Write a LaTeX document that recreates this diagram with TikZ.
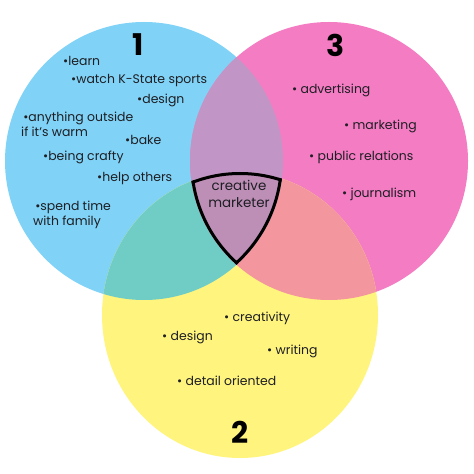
\documentclass[tikz,border=0pt]{standalone}
\usepackage{fontspec}
\setmainfont{Poppins}
\usepackage{tikz}
\usetikzlibrary{positioning}
\definecolor{ink}{HTML}{1E1E24}
\definecolor{bluefill}{HTML}{80D3F6}
\definecolor{pinkfill}{HTML}{F47CC3}
\definecolor{yellowfill}{HTML}{FFF57E}
\definecolor{bpfill}{HTML}{C196C6}
\definecolor{byfill}{HTML}{6FCDC6}
\definecolor{pyfill}{HTML}{F4969D}
\definecolor{allfill}{HTML}{BD8FB6}
\newcommand{\bluecirc}{(144,161) circle [radius=139]}
\newcommand{\pinkcirc}{(329,161) circle [radius=139]}
\newcommand{\yellowcirc}{(240,315) ellipse [x radius=138, y radius=143]}
\tikzset{
  itembox/.style={font=\fontsize{12.5}{15}\selectfont,text=ink,
                  anchor=west,inner sep=0pt,align=left},
  numbox/.style={font=\fontsize{30}{30}\selectfont\bfseries,text=black,inner sep=0pt},
  corebox/.style={font=\fontsize{13.5}{17}\selectfont,text=ink,inner sep=0pt,align=center}
}

\begin{document}
\begin{tikzpicture}[x=1bp,y=-1bp]
  \useasboundingbox (0,0) rectangle (474,474);
  % the three sets
  \fill[bluefill] \bluecirc;
  \fill[pinkfill] \pinkcirc;
  \fill[yellowfill] \yellowcirc;
  % overlaps
  \begin{scope}
    \clip \bluecirc;
    \fill[bpfill] \pinkcirc;
    \fill[byfill] \yellowcirc;
  \end{scope}
  \begin{scope}
    \clip \pinkcirc;
    \fill[pyfill] \yellowcirc;
  \end{scope}
  \begin{scope}
    \clip \bluecirc;
    \clip \pinkcirc;
    \clip \yellowcirc;
    \fill[allfill] \yellowcirc;
    \draw[black,line width=6bp] \bluecirc;
    \draw[black,line width=6bp] \pinkcirc;
    \draw[black,line width=6bp] \yellowcirc;
  \end{scope}
  % set numbers
  \node[numbox] (one) at (138,45) {1};
  \node[numbox] (three) at (336,45) {3};
  \node[numbox] (two) at (240,432) {2};
  % set 1
  \node[itembox] (learn) at (63,61) {•learn};
  \node[itembox] (watch) at (71,81) {•watch K-State sports};
  \node[itembox] (design1) at (137,100) {•design};
  \node[itembox] (outside) at (21,124) {\,•anything outside\\if it’s warm};
  \node[itembox] (bake) at (125,140) {•bake};
  \node[itembox] (crafty) at (43,157) {•being crafty};
  \node[itembox] (help) at (97,179) {•help others};
  \node[itembox] (family) at (33,215) {\,•spend time\\with family};
  % set 3
  \node[itembox] (advert) at (292,90) {• advertising};
  \node[itembox] (market) at (344,126) {• marketing};
  \node[itembox] (public) at (309,157) {• public relations};
  \node[itembox] (journal) at (342,194) {• journalism};
  % set 2
  \node[itembox] (creat) at (224,318) {• creativity};
  \node[itembox] (design2) at (162,337) {• design};
  \node[itembox] (writing) at (267,351) {• writing};
  \node[itembox] (detail) at (177,381) {• detail oriented};
  % centre
  \node[corebox] (core) at (239,194) {creative\\marketer};
\end{tikzpicture}
\end{document}
